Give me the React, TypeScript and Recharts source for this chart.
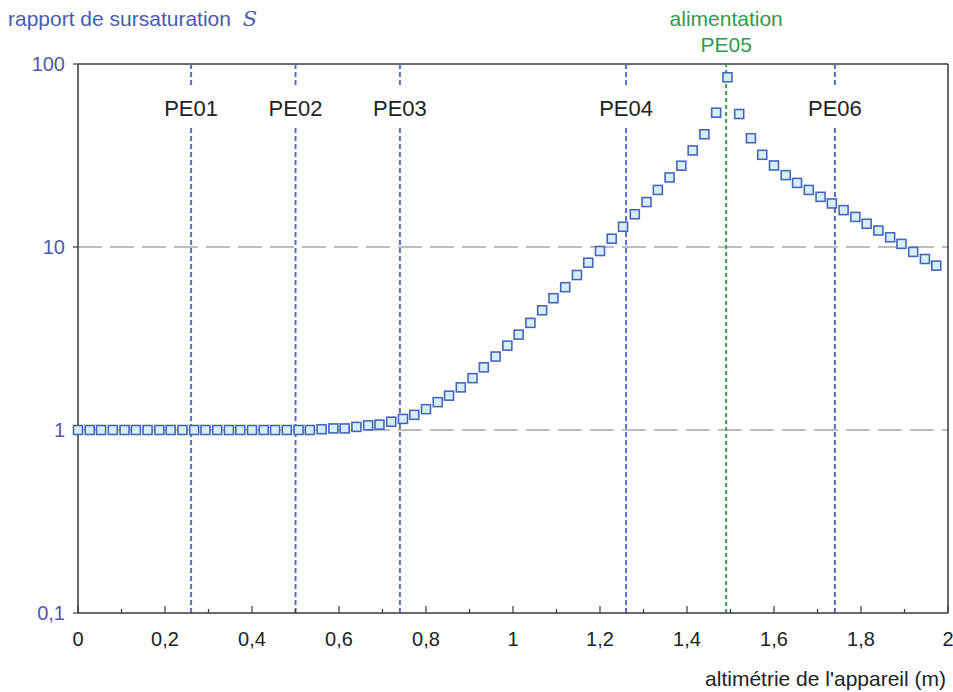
import { ScatterChart, Scatter, XAxis, YAxis, ReferenceLine } from "recharts";

// altimétrie (m) of each computed point
const X_VALUES = [
  0, 0.027, 0.053, 0.08, 0.107, 0.133, 0.16, 0.187, 0.213, 0.24, 0.267, 0.293,
  0.32, 0.347, 0.373, 0.4, 0.427, 0.453, 0.48, 0.507, 0.533, 0.56, 0.587, 0.613,
  0.64, 0.667, 0.693, 0.72, 0.747, 0.773, 0.8, 0.827, 0.853, 0.88, 0.907, 0.933,
  0.96, 0.987, 1.013, 1.04, 1.067, 1.093, 1.12, 1.147, 1.173, 1.2, 1.227, 1.253,
  1.28, 1.307, 1.333, 1.36, 1.387, 1.413, 1.44, 1.467, 1.493, 1.52, 1.547, 1.573,
  1.6, 1.627, 1.653, 1.68, 1.707, 1.733, 1.76, 1.787, 1.813, 1.84, 1.867, 1.893,
  1.92, 1.947, 1.973,
];

// rapport de sursaturation S
const S_VALUES = [
  1, 1, 1, 1, 1, 1, 1, 1, 1, 1, 1, 1,
  1, 1, 1, 1, 1, 1, 1, 1, 1, 1.01, 1.02, 1.02,
  1.04, 1.06, 1.07, 1.11, 1.15, 1.21, 1.3, 1.42, 1.54, 1.71, 1.92, 2.2,
  2.52, 2.89, 3.32, 3.85, 4.51, 5.25, 6.03, 7.03, 8.21, 9.51, 11.1, 12.9,
  15.1, 17.6, 20.5, 24.0, 27.8, 33.7, 41.3, 54.2, 84.6, 53.3, 39.3, 31.9,
  27.9, 24.7, 22.4, 20.5, 18.8, 17.3, 15.9, 14.6, 13.4, 12.3, 11.3, 10.4,
  9.4, 8.6, 7.91,
];

const X_TICKS = [
  0, 0.1, 0.2, 0.3, 0.4, 0.5, 0.6, 0.7, 0.8, 0.9, 1, 1.1, 1.2, 1.3, 1.4, 1.5,
  1.6, 1.7, 1.8, 1.9, 2,
];
const Y_TICKS = [0.1, 1, 10, 100];
const GRID_Y = [1, 10];

const PROBE_NAMES = ["PE01", "PE02", "PE03", "PE04", "PE06"];
const PROBE_X = [0.26, 0.5, 0.74, 1.26, 1.74];
const FEED_NAME = "PE05";
const FEED_TITLE = "alimentation";
const FEED_X = 1.49;

const FONT = "'Liberation Sans', Arial, sans-serif";
const AXIS_COLOR = "#3a3a3a";
const BLUE_TEXT = "#5358ad";

const data = X_VALUES.map((x, i) => ({ x, s: S_VALUES[i] }));

const fmt = (v: number) => String(v).replace(".", ",");

function XTick(props: any) {
  const { x, y, payload } = props;
  const v = payload.value;
  const major = Math.round(v * 10) % 2 === 0;
  return (
    <g>
      <line x1={x} x2={x} y1={y} y2={y - (major ? 7 : 4)} stroke={AXIS_COLOR} strokeWidth={1.2} />
      {major && (
        <text x={x} y={y + 33} textAnchor="middle" fontSize={20} fill="#222" fontFamily={FONT}>
          {fmt(v)}
        </text>
      )}
    </g>
  );
}

function Square(props: any) {
  const { cx, cy } = props;
  if (cx == null || cy == null) return null;
  return (
    <rect x={cx - 4.5} y={cy - 4.5} width={9} height={9} fill="#d5eef9" stroke="#4767bd" strokeWidth={1.6} />
  );
}

function probeLabel(name: string) {
  return (p: any) => {
    const vb = p.viewBox || {};
    return (
      <g>
        <rect x={vb.x - 33} y={86} width={66} height={40} fill="#fff" />
        <text x={vb.x} y={116} textAnchor="middle" fontSize={22} fill="#222" fontFamily={FONT}>
          {name}
        </text>
      </g>
    );
  };
}

function feedLabel(p: any) {
  const vb = p.viewBox || {};
  return (
    <g>
      <text x={vb.x} y={26} textAnchor="middle" fontSize={21} fill="#2f9a4c" fontFamily={FONT}>
        {FEED_TITLE}
      </text>
      <text x={vb.x} y={52} textAnchor="middle" fontSize={21} fill="#2f9a4c" fontFamily={FONT}>
        {FEED_NAME}
      </text>
    </g>
  );
}

export default function App() {
  return (
    <div style={{ position: "absolute", left: 0, top: 0, width: 953, height: 692, background: "#fff" }}>
      <ScatterChart
        width={953}
        height={692}
        margin={{ top: 64, right: 5, bottom: 29, left: 8 }}
        style={{ fontFamily: FONT }}
      >
        <XAxis
          type="number"
          dataKey="x"
          domain={[0, 2]}
          ticks={X_TICKS}
          interval={0}
          height={50}
          tickSize={0}
          tickMargin={0}
          tickLine={false}
          tick={<XTick />}
          axisLine={{ stroke: AXIS_COLOR, strokeWidth: 1.5 }}
        />
        <YAxis
          type="number"
          dataKey="s"
          scale="log"
          domain={[0.1, 100]}
          allowDataOverflow
          ticks={Y_TICKS}
          interval={0}
          width={70}
          tickSize={5}
          tickMargin={8}
          tickFormatter={fmt}
          tick={{ fontSize: 20, fill: BLUE_TEXT, fontFamily: FONT }}
          tickLine={{ stroke: AXIS_COLOR, strokeWidth: 1.2 }}
          axisLine={{ stroke: AXIS_COLOR, strokeWidth: 1.5 }}
        />
        {GRID_Y.map((g) => (
          <ReferenceLine key={g} y={g} stroke="#a8a8a8" strokeWidth={1.5} strokeDasharray="24 8" />
        ))}
        <ReferenceLine y={100} stroke={AXIS_COLOR} strokeWidth={1.5} />
        <ReferenceLine x={2} stroke={AXIS_COLOR} strokeWidth={1.5} />
        {PROBE_X.map((px, i) => (
          <ReferenceLine
            key={PROBE_NAMES[i]}
            x={px}
            stroke="#5d6cc0"
            strokeWidth={2}
            strokeDasharray="5 3"
            label={probeLabel(PROBE_NAMES[i])}
          />
        ))}
        <ReferenceLine x={FEED_X} stroke="#3a9e4e" strokeWidth={2} strokeDasharray="4 3" label={feedLabel} />
        <Scatter data={data} shape={<Square />} isAnimationActive={false} />
      </ScatterChart>
      <div
        style={{
          position: "absolute",
          left: 8,
          top: 7,
          fontFamily: FONT,
          fontSize: 21,
          color: "#4a5bb0",
          whiteSpace: "nowrap",
        }}
      >
        rapport de sursaturation{" "}
        <span style={{ fontFamily: "'DejaVu Serif', serif", fontStyle: "italic", marginLeft: 6 }}>S</span>
      </div>
      <div
        style={{
          position: "absolute",
          right: 7,
          top: 667,
          fontFamily: FONT,
          fontSize: 21,
          color: "#222",
          whiteSpace: "nowrap",
        }}
      >
        altimétrie de l'appareil (m)
      </div>
    </div>
  );
}
